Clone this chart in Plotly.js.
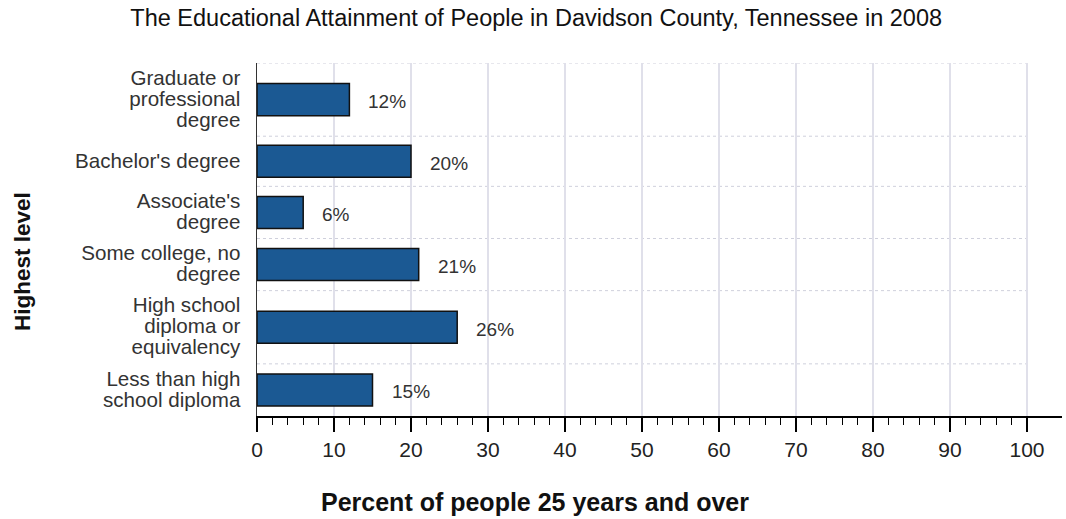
<!DOCTYPE html>
<html>
<head>
<meta charset="utf-8">
<script src="https://cdn.plot.ly/plotly-3.0.1.min.js"></script>
<style>
  html, body { margin: 0; padding: 0; background: #fff; }
  #chart { width: 1066px; height: 519px; }
</style>
</head>
<body>
<div id="chart"></div>
<script>
// ---- data ----
const categories = [
  "Graduate or<br>professional<br>degree",
  "Bachelor's degree",
  "Associate's<br>degree",
  "Some college, no<br>degree",
  "High school<br>diploma or<br>equivalency",
  "Less than high<br>school diploma"
];
const percents = [12, 20, 6, 21, 26, 15];
const valueLabels = ["12%", "20%", "6%", "21%", "26%", "15%"];
const xTickLabels = ["0", "10", "20", "30", "40", "50", "60", "70", "80", "90", "100"];

const FONT = "Liberation Sans, Arial, Helvetica, sans-serif";
const LINE_GAP = 21; // px between label lines

// ---- category bands (height depends on number of label lines) ----
const bands = categories.map(c => Math.max(50, LINE_GAP * c.split("<br>").length + 10));
const edges = [0];
bands.forEach(b => edges.push(edges[edges.length - 1] + b));
const total = edges[edges.length - 1];
const centers = bands.map((b, i) => edges[i] + b / 2);

const xTickVals = xTickLabels.map(Number);
const minorVals = [];
for (let v = 0; v <= 100; v += 2) minorVals.push(v);

const trace = {
  type: "bar",
  orientation: "h",
  x: percents,
  y: centers,
  width: 32,
  marker: { color: "#1b5993", line: { color: "#111111", width: 1.5 } },
  hoverinfo: "skip"
};

const shapes = edges.slice(0, -1).map(e => ({
  type: "line", xref: "x", yref: "y",
  x0: 0, x1: 100, y0: e, y1: e,
  line: { color: "#cfd0dc", width: 1, dash: "dot" },
  layer: "below"
}));

const annotations = percents.map((v, i) => ({
  x: v, y: centers[i], xref: "x", yref: "y",
  text: valueLabels[i], showarrow: false,
  xanchor: "left", yanchor: "middle", xshift: 17, yshift: -2,
  font: { family: FONT, size: 19, color: "#333333" }
}));
// axis titles (positioned as in the original)
annotations.push({
  xref: "paper", yref: "paper",
  x: (22 - 257) / (1062 - 257), y: (416 - 262) / 353,
  text: "Highest level", showarrow: false, textangle: -90,
  xanchor: "center", yanchor: "middle",
  font: { family: FONT, size: 22.5, color: "#111111", weight: "bold" }
});
annotations.push({
  xref: "paper", yref: "paper",
  x: (535 - 257) / (1062 - 257), y: -(502 - 416) / 353,
  text: "Percent of people 25 years and over", showarrow: false,
  xanchor: "center", yanchor: "middle",
  font: { family: FONT, size: 25, color: "#111111", weight: "bold" }
});

const layout = {
  width: 1066, height: 519,
  margin: { l: 257, r: 4, t: 63, b: 103, pad: 0 },
  paper_bgcolor: "#ffffff", plot_bgcolor: "#ffffff",
  showlegend: false,
  title: {
    text: "The Educational Attainment of People in Davidson County, Tennessee in 2008",
    font: { family: FONT, size: 23.5, color: "#111111" },
    x: 0.503, xanchor: "center", y: 1 - 18 / 519, yanchor: "middle"
  },
  xaxis: {
    range: [0, (1062 - 257) / 7.7],
    tickmode: "array", tickvals: xTickVals, ticktext: xTickLabels,
    ticks: "outside", ticklen: 14, tickwidth: 1.5, tickcolor: "#000000",
    ticklabelstandoff: 0,
    minor: { tickmode: "array", tickvals: minorVals, ticks: "outside", ticklen: 7, tickwidth: 1.3, tickcolor: "#000000", showgrid: false },
    showgrid: true, gridcolor: "#e0e0ea", gridwidth: 1.5,
    showline: true, linecolor: "#000000", linewidth: 1.5,
    zeroline: false,
    tickfont: { family: FONT, size: 21, color: "#222222" },
    fixedrange: true
  },
  yaxis: {
    range: [total, 0],
    tickmode: "array", tickvals: centers, ticktext: categories,
    ticks: "", ticklabelstandoff: 11,
    showgrid: false, zeroline: false,
    showline: true, linecolor: "#333333", linewidth: 1.5,
    tickfont: { family: FONT, size: 20.6, color: "#333333" },
    fixedrange: true
  },
  shapes: shapes,
  annotations: annotations
};

Plotly.newPlot("chart", [trace], layout, { displayModeBar: false, staticPlot: true }).then(() => {
  // tighten the line spacing of multi-line category labels to match the original
  document.querySelectorAll("#chart .ytick text").forEach(t => {
    const lines = t.querySelectorAll("tspan.line");
    if (lines.length < 2) return;
    const b0 = t.getBBox();
    const c0 = b0.y + b0.height / 2;
    lines.forEach((ln, i) => ln.setAttribute("dy", (i * LINE_GAP) + "px"));
    const b1 = t.getBBox();
    const c1 = b1.y + b1.height / 2;
    const tr = t.getAttribute("transform") || "";
    t.setAttribute("transform", tr + " translate(0," + (c0 - c1 - 1) + ")");
  });
});
</script>
</body>
</html>
